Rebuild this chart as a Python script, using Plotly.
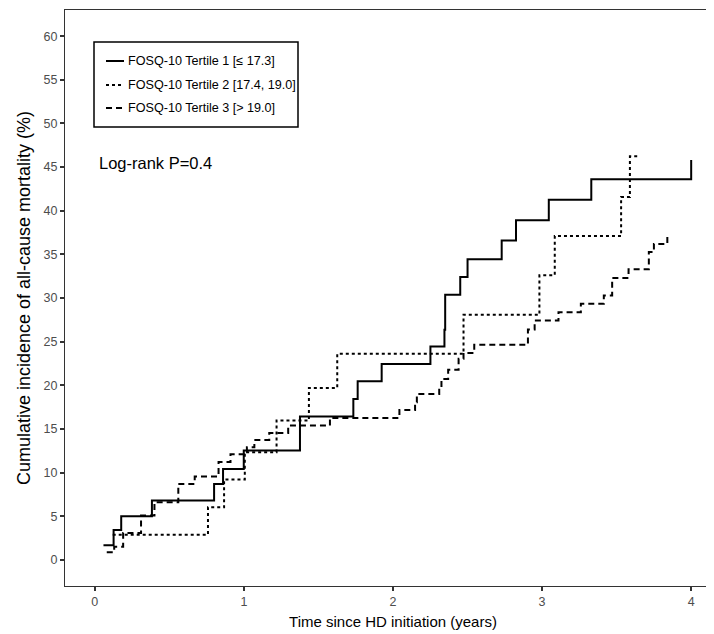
import plotly.graph_objects as go

# Tertile 1 (solid)
t1_time = [0.058, 0.126, 0.177, 0.383, 0.80, 0.86, 0.999, 1.376, 1.734, 1.763, 1.924,
           2.251, 2.345, 2.35, 2.451, 2.50, 2.729, 2.825, 3.045, 3.33, 4.0]
t1_cum = [1.66, 3.42, 4.99, 6.79, 8.69, 10.41, 12.52, 16.42, 18.44, 20.47, 22.45,
          24.45, 26.35, 30.37, 32.4, 34.43, 36.6, 38.9, 41.26, 43.6, 45.8]

# Tertile 2 (dotted)
t2_time = [0.12, 0.759, 0.867, 1.006, 1.219, 1.436, 1.626, 2.473, 2.982, 3.085, 3.53, 3.589, 3.654]
t2_cum = [2.87, 6.02, 9.2, 12.33, 15.96, 19.7, 23.6, 28.07, 32.6, 37.1, 41.57, 46.24, 46.24]

# Tertile 3 (dashed)
t3_time = [0.08, 0.13, 0.19, 0.31, 0.40, 0.56, 0.67, 0.83, 0.91, 1.02, 1.07, 1.17, 1.297,
           1.577, 2.043, 2.148, 2.16, 2.31, 2.325, 2.37, 2.44, 2.473, 2.545, 2.905, 2.95,
           3.11, 3.26, 3.414, 3.47, 3.58, 3.716, 3.75, 3.84, 3.85]
t3_cum = [0.86, 1.5, 3.07, 5.07, 6.6, 8.7, 9.54, 11.2, 12.1, 12.9, 13.74, 14.54, 15.39,
          16.26, 17.18, 18.06, 19.01, 19.78, 20.73, 21.77, 23.03, 23.7, 24.63, 26.4, 27.43,
          28.38, 29.33, 30.3, 32.3, 33.3, 35.26, 36.2, 37.2, 37.2]

labels = ["FOSQ-10 Tertile 1 [≤ 17.3]", "FOSQ-10 Tertile 2 [17.4, 19.0]", "FOSQ-10 Tertile 3 [> 19.0]"]
dashes = ["solid", "3px,3px", "6px,4px"]

x_ticks = [0, 1, 2, 3, 4]
y_ticks = list(range(0, 61, 5))

FONT = "Liberation Sans, Arial, sans-serif"

fig = go.Figure()
for tt, cc, lab, ds in zip([t1_time, t2_time, t3_time], [t1_cum, t2_cum, t3_cum], labels, dashes):
    fig.add_trace(go.Scatter(x=tt, y=cc, mode="lines", line=dict(color="black", width=2, dash=ds, shape="hv"),
                             name=lab, showlegend=False))

# custom legend box
fig.add_shape(type="rect", xref="paper", yref="paper", x0=(86-57)/656, x1=(290-57)/656,
              y0=(578-119)/576, y1=(578-34)/576, line=dict(color="black", width=1.5), fillcolor="white", layer="above")
for i, (lab, ds) in enumerate(zip(labels, dashes)):
    ypx = [53, 77, 100][i]
    yp = (578 - ypx) / 576
    fig.add_shape(type="line", xref="paper", yref="paper", x0=(98-57)/656, x1=(116-57)/656, y0=yp, y1=yp,
                  line=dict(color="black", width=2, dash=ds))
    fig.add_annotation(xref="paper", yref="paper", x=(118-57)/656, y=yp, text=lab, showarrow=False,
                       xanchor="left", yanchor="middle", font=dict(family=FONT, size=12.6, color="black"))

fig.add_annotation(xref="paper", yref="paper", x=(89-57)/656, y=(578-155)/576, text="Log-rank P=0.4",
                   showarrow=False, xanchor="left", yanchor="middle", font=dict(family=FONT, size=16.5, color="black"))

fig.update_layout(
    width=714, height=634,
    margin=dict(l=57, r=1, t=2, b=56),
    plot_bgcolor="white", paper_bgcolor="white",
    font=dict(family=FONT, color="black"),
    xaxis=dict(range=[-0.2, 4.2], tickvals=x_ticks, ticktext=[str(v) for v in x_ticks],
               ticks="outside", ticklen=4, tickwidth=1.5, tickcolor="#333", showgrid=False, zeroline=False,
               showline=True, linecolor="#333", linewidth=1, mirror=True,
               tickfont=dict(size=12.5, color="#4d4d4d"),
               title=dict(text="Time since HD initiation (years)", font=dict(size=15, color="black"), standoff=8)),
    yaxis=dict(range=[-3, 63], tickvals=y_ticks, ticktext=[str(v) for v in y_ticks],
               ticks="outside", ticklen=4, tickwidth=1.5, tickcolor="#333", showgrid=False, zeroline=False,
               showline=True, linecolor="#333", linewidth=1, mirror=True,
               tickfont=dict(size=12.5, color="#4d4d4d"),
               title=dict(text="Cumulative incidence of all-cause mortality (%)", font=dict(size=18, color="black"), standoff=8)),
)

fig.write_html("out.html")
